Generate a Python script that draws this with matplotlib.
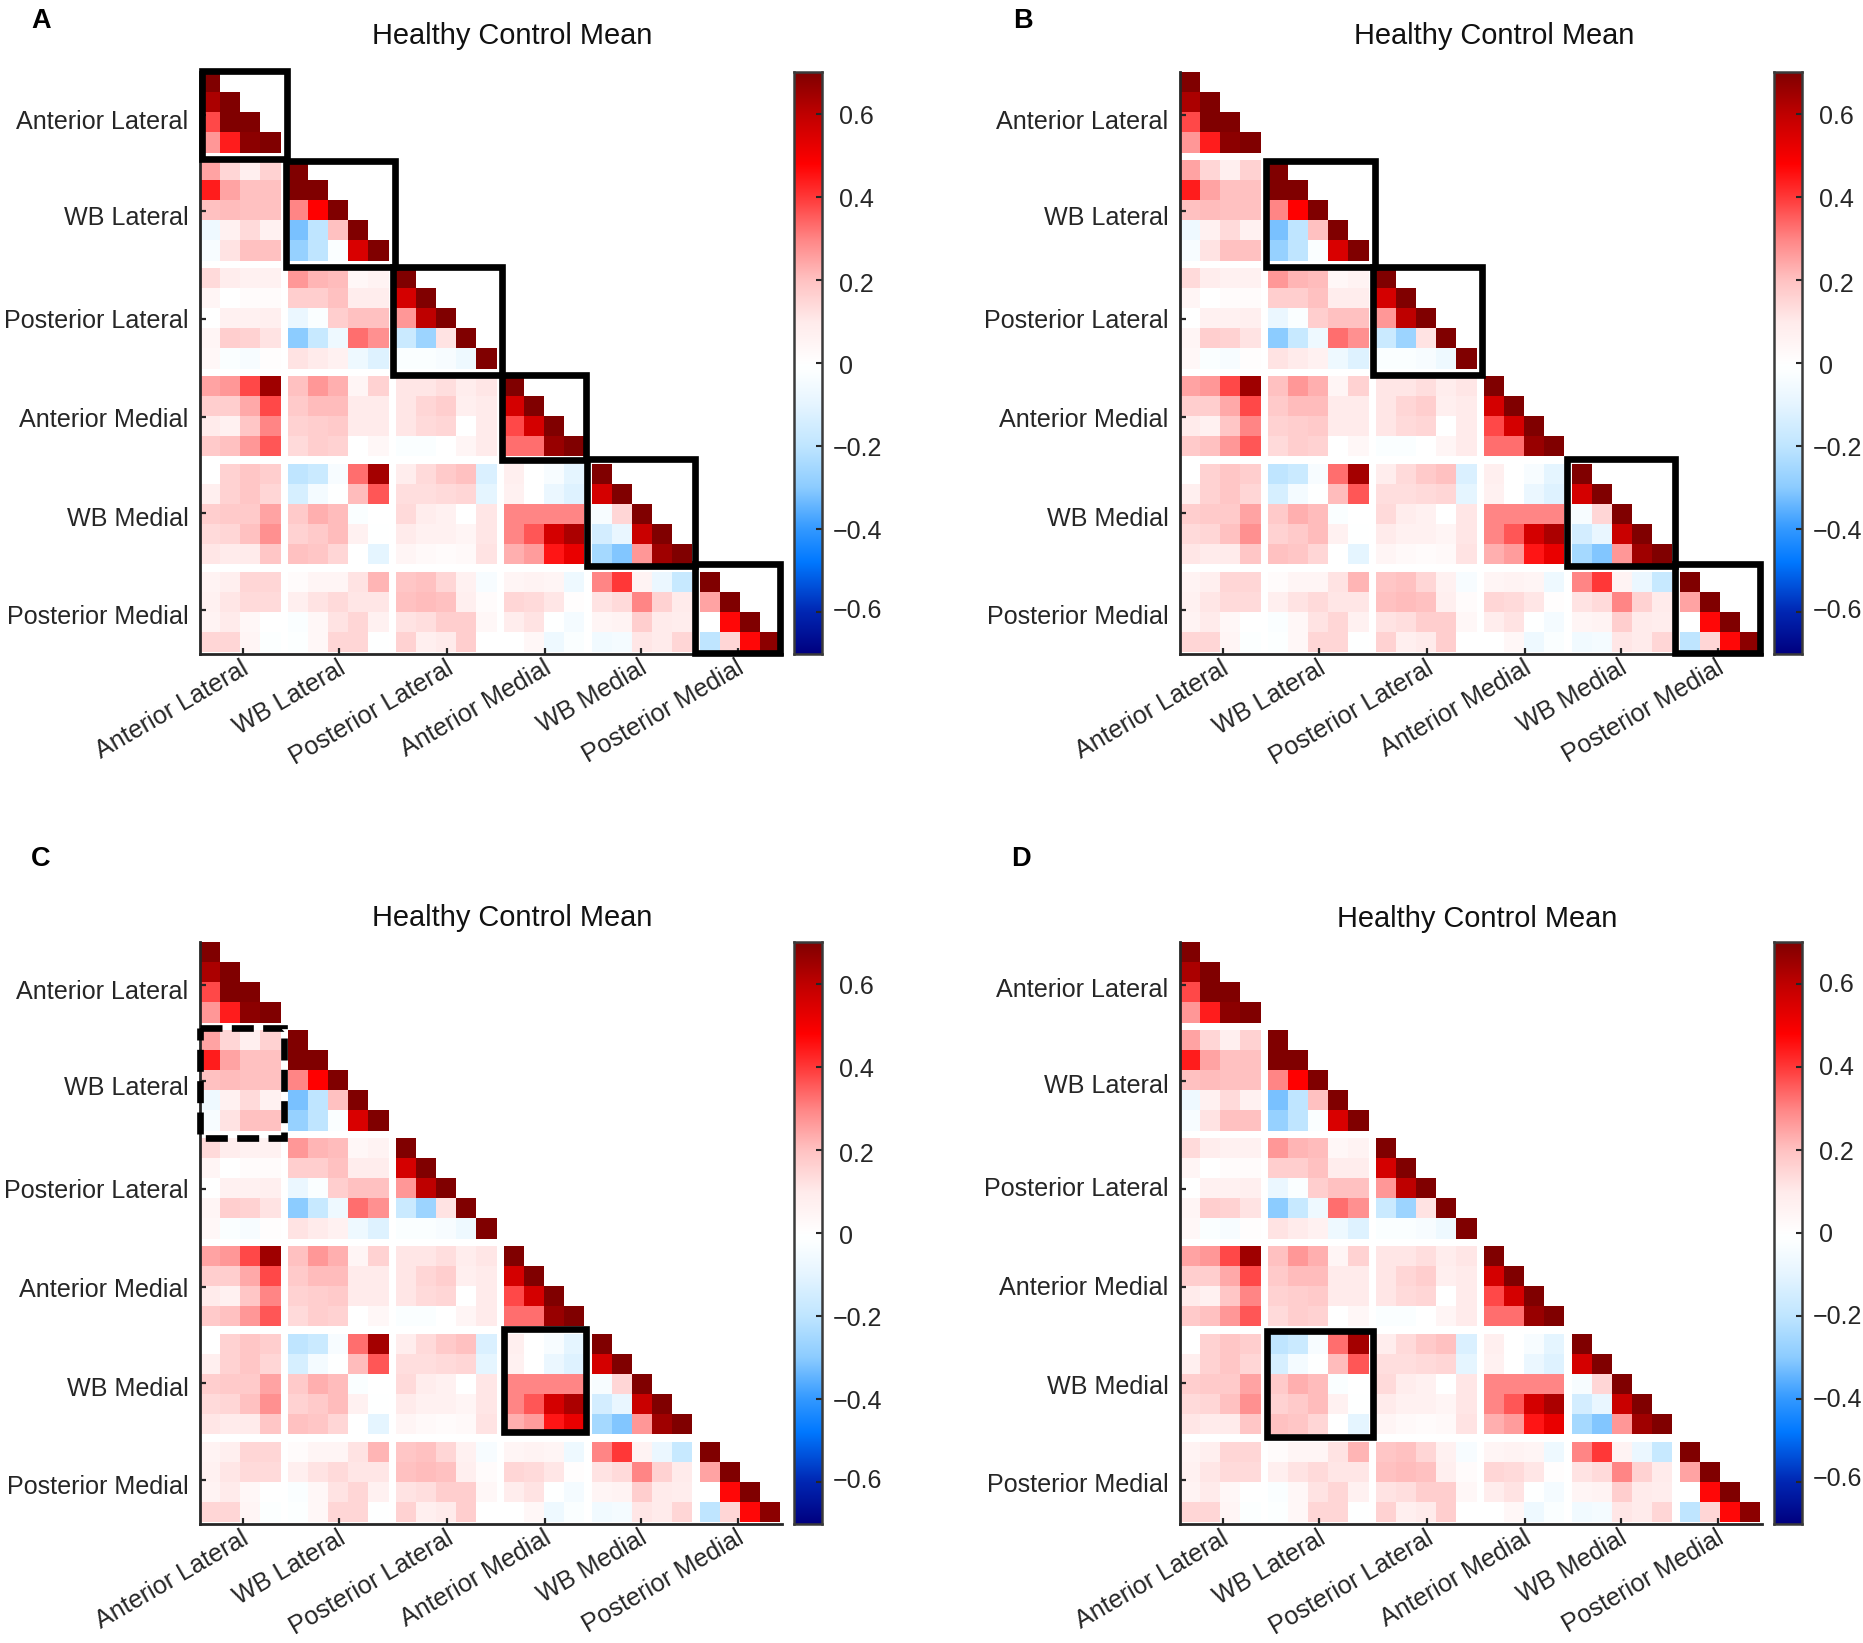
import numpy as np
import matplotlib
matplotlib.use('Agg')
import matplotlib.pyplot as plt
from matplotlib.colors import LinearSegmentedColormap
from matplotlib.patches import Rectangle
from matplotlib.transforms import Affine2D

plt.rcParams['font.family'] = ['Liberation Sans', 'DejaVu Sans']

region_names = ['Anterior Lateral', 'WB Lateral', 'Posterior Lateral',
                'Anterior Medial', 'WB Medial', 'Posterior Medial']
block_sizes = [4, 5, 5, 4, 5, 4]
cbar_ticks = [-0.6, -0.4, -0.2, 0, 0.2, 0.4, 0.6]
cbar_labels = ['\u22120.6', '\u22120.4', '\u22120.2', '0', '0.2', '0.4', '0.6']

# lower triangle of the correlation matrix
corr_rows = [
    [.7],
    [.63, .7],
    [.38, .7, .7],
    [.27, .44, .68, .7],
    [.25, .15, .08, .16, .7],
    [.44, .25, .2, .2, .7, .7],
    [.2, .21, .2, .2, .3, .48, .7],
    [-.07, .07, .14, .07, -.32, -.2, .2, .7],
    [-.04, .12, .2, .2, -.28, -.2, -.03, .55, .7],
    [.14, .09, .07, .07, .27, .22, .21, .04, .06, .7],
    [.05, 0, .02, .02, .17, .17, .2, .09, .09, .56, .7],
    [0, .07, .07, .08, -.08, -.03, .17, .2, .2, .27, .6, .7],
    [.05, .17, .16, .12, -.3, -.18, -.07, .33, .28, -.17, -.27, .12, .7],
    [.04, -.03, -.04, .01, .12, .1, .07, -.07, -.12, -.03, -.03, -.04, -.07, .7],
    [.25, .27, .38, .65, .2, .27, .23, .05, .16, .11, .11, .13, .09, .11, .7],
    [.17, .17, .24, .38, .18, .21, .21, .1, .1, .11, .15, .17, .08, .1, .56, .7],
    [.1, .07, .19, .3, .16, .17, .18, .1, .1, .11, .14, .15, 0, .1, .38, .56, .7],
    [.18, .2, .27, .36, .14, .17, .16, 0, .04, -.03, -.03, 0, .05, .1, .33, .33, .66, .7],
    [0, .16, .19, .17, -.2, -.17, -.04, .33, .64, .09, .14, .18, .2, -.13, .08, 0, -.04, -.1, .7],
    [.08, .16, .19, .15, -.14, -.05, -.01, .21, .36, .13, .13, .14, .15, -.1, .07, 0, -.08, -.12, .56, .7],
    [.17, .18, .18, .25, .18, .23, .21, -.03, 0, .14, .09, .07, 0, .11, .3, .3, .3, .3, -.04, .15, .7],
    [.14, .15, .2, .28, .16, .18, .21, .07, -.01, .1, .07, .07, .05, .11, .3, .36, .56, .63, -.15, -.09, .58, .7],
    [.11, .1, .1, .19, .2, .19, .15, 0, -.1, .05, .03, .02, .03, .12, .23, .26, .45, .52, -.25, -.31, .27, .65, .7],
    [.06, .08, .15, .15, .02, .05, .05, .12, .22, .19, .2, .15, .07, -.04, .05, .06, .05, -.07, .3, .4, .06, -.08, -.18, .7],
    [.07, .11, .14, .14, .08, .12, .14, .11, .11, .2, .21, .2, .08, .02, .15, .14, .11, .01, .12, .14, .3, .16, .1, .25, .7],
    [.06, .1, .04, 0, -.03, .04, .12, .15, .07, .12, .13, .17, .17, .04, .09, .12, -.01, -.05, .05, .06, .17, .1, .09, 0, .47, .7],
    [.15, .15, .05, -.02, -.02, .04, .15, .15, -.01, .16, .08, .1, .17, 0, 0, .04, -.07, -.03, -.06, -.05, .11, .1, .15, -.2, .15, .47, .68],
]

# colour map nodes as seen on the colorbar
cmap_vals = [-.7, -.6, -.48, -.4, -.3, -.2, -.1, -.02, 0, .1, .2, .3, .4, .48, .6, .7]
cmap_cols = [(0, 0, .5), (0, .15, .7), (0, .47, 1), (.2, .6, 1), (.55, .8, 1), (.75, .9, 1), (.9, .96, 1),
             (.99, 1, 1), (1, 1, 1), (1, .92, .92), (1, .76, .76), (1, .52, .52), (1, .22, .22),
             (1, 0, 0), (.75, 0, 0), (.5, 0, 0)]
cmap = LinearSegmentedColormap.from_list(
    'hc', [((v + .7) / 1.4, c) for v, c in zip(cmap_vals, cmap_cols)], N=512)

W, H = 1863, 1643
GAP = 0.36
CELL = 20.15
TICK_PX = np.array([43, 139, 247, 345, 441, 538])     # tick places from the axes corner
YLAB_DY = [7, 7, 2, 3, 6, 7]                          # y labels sit a bit off their ticks
CBAR_DY = [-1, 2.4, 2.4, 3.6, 4.7, 3.6, 3.6]

# outlines as pixels from the axes corner: x0, x1, y0, y1
OUTLINES = [(2, 86.5, -1.5, 87), (86, 195, 88.5, 194.5), (192.5, 301.5, 194.5, 302.5),
            (301.5, 386, 302.5, 387.5), (387, 495, 387, 494), (494.5, 579.5, 492, 581)]
DASHED = (0, 84, 85.7, 195.7)
SOLID_C = (303.5, 385.5, 387, 489.5)
SOLID_D = (86.5, 192.5, 388.5, 494.5)

# add a blank column/row between blocks so the white stripes stay
edges = [0.0]
full_idx = []
k = 0
for b, size in enumerate(block_sizes):
    for j in range(size):
        edges.append(edges[-1] + 1)
        full_idx.append(k)
        k += 1
    if b < len(block_sizes) - 1:
        edges.append(edges[-1] + GAP)
        full_idx.append(None)
edges = np.array(edges)

Z = np.full((len(full_idx), len(full_idx)), np.nan)
for r, ri in enumerate(full_idx):
    for c, ci in enumerate(full_idx):
        if ri is not None and ci is not None and ci <= ri:
            Z[r, c] = corr_rows[ri][ci]


def draw_panel(letter, left, top, title_x, title_y, letter_xy, boxes, lab_dy=0):
    ax = fig.add_axes([left / W, 1 - (top + 582) / H, 582 / W, 582 / H])
    ax.pcolormesh(edges, edges, np.ma.masked_invalid(Z), cmap=cmap, vmin=-.7, vmax=.7,
                  antialiased=False, linewidth=0)
    ax.set_xlim(0, 582 / CELL)
    ax.set_ylim(582 / CELL, 0)
    for s in ['top', 'right']:
        ax.spines[s].set_visible(False)
    for s in ['left', 'bottom']:
        ax.spines[s].set_color('#262626')
        ax.spines[s].set_linewidth(2.0)
    ax.set_xticks(TICK_PX / CELL)
    ax.set_yticks(TICK_PX / CELL)
    ax.tick_params(direction='in', length=4.5, width=1.6, color='#262626', labelsize=18.1,
                   labelcolor='#262626', pad=1.5)
    ax.set_xticklabels(region_names, rotation=30, ha='right', rotation_mode='anchor')
    for lab in ax.get_xticklabels():
        lab.set_transform(lab.get_transform() + Affine2D().translate(-2, 0))
    ax.set_yticklabels([])
    for name, t, dy in zip(region_names, TICK_PX, YLAB_DY):
        ax.annotate(name, xy=(0, t / CELL), xycoords=('axes fraction', 'data'),
                    xytext=(-11.5, -(dy + lab_dy)), textcoords='offset pixels',
                    fontsize=18.1, color='#262626', ha='right', va='center')

    for (x0, x1, y0, y1), ls in boxes:
        ax.add_patch(Rectangle((x0 / CELL, y0 / CELL), (x1 - x0) / CELL, (y1 - y0) / CELL,
                               fill=False, ec='black', lw=4.8, ls=ls, clip_on=False, zorder=5,
                               joinstyle='miter'))

    cax = fig.add_axes([(left + 594) / W, 1 - (top + 582) / H, 28 / W, 582 / H])
    cax.imshow(np.linspace(.7, -.7, 512)[:, None], cmap=cmap, vmin=-.7, vmax=.7, aspect='auto',
               extent=[0, 1, -.7, .7])
    cax.set_xticks([])
    cax.set_yticks(cbar_ticks)
    cax.yaxis.tick_right()
    cax.tick_params(direction='in', length=4.5, width=1.5, color='#262626', labelright=False)
    for s in cax.spines.values():
        s.set_color('#3a3a3a')
        s.set_linewidth(1.8)
    for v, label, dy in zip(cbar_ticks, cbar_labels, CBAR_DY):
        dx = 1.39 if v < 0 else 1.6
        cax.annotate(label, xy=(dx, v), xycoords=('axes fraction', 'data'), xytext=(0, -(dy + lab_dy)),
                     textcoords='offset pixels', fontsize=18, color='#262626', va='center', ha='left')

    fig.text(title_x / W, 1 - title_y / H, 'Healthy Control Mean', fontsize=20.9, color='#111111',
             ha='center', va='center')
    fig.text(letter_xy[0] / W, 1 - letter_xy[1] / H, letter, fontsize=19.5, fontweight='bold',
             ha='center', va='center')


fig = plt.figure(figsize=(W / 100, H / 100), dpi=100)

draw_panel('A', 200, 72, 512, 36, (41, 21), [(o, '-') for o in OUTLINES])
draw_panel('B', 1180, 72, 1494, 36, (1023, 21), [(OUTLINES[i], '-') for i in (1, 2, 4, 5)])
draw_panel('C', 200, 942, 512, 918, (41, 859), [(DASHED, (0, (3.3, 1.4))), (SOLID_C, '-')])
draw_panel('D', 1180, 942, 1477, 919, (1021, 859), [(SOLID_D, '-')], lab_dy=-2)

fig.savefig('out.png', dpi=100)
